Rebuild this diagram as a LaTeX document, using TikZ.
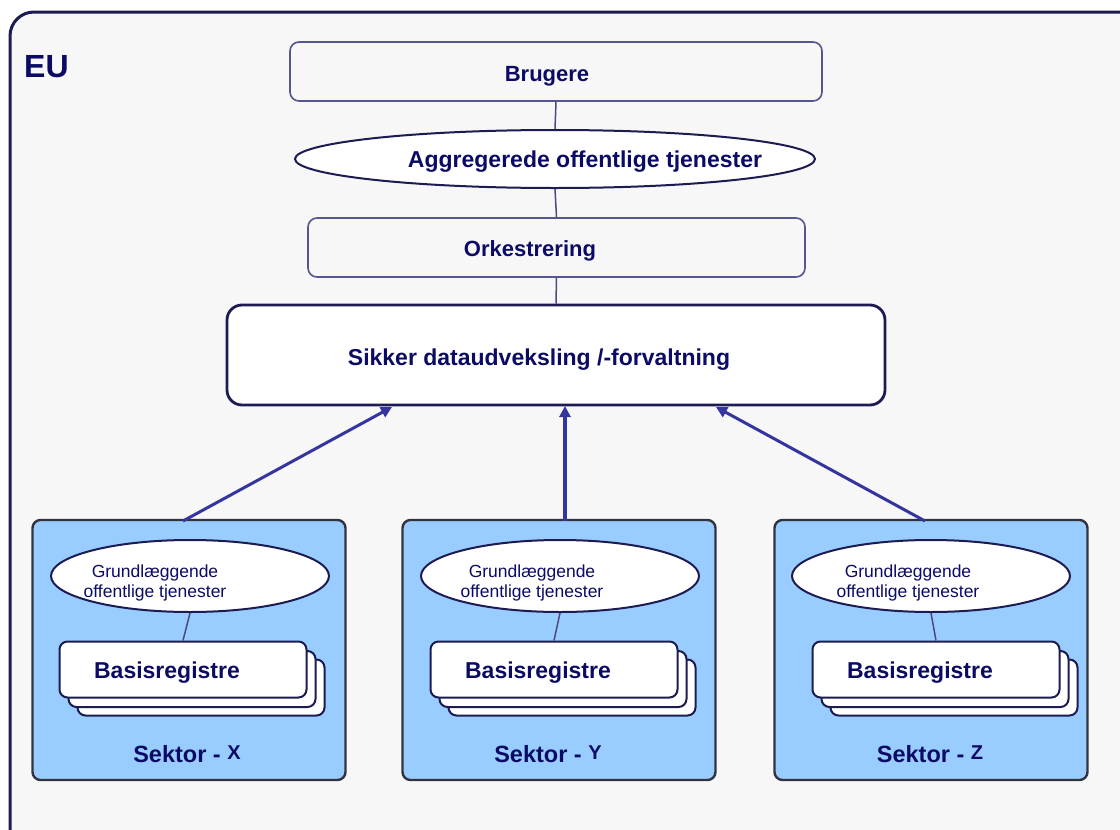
\documentclass[tikz,border=0pt]{standalone}
\usepackage{fontspec}
\setmainfont{Liberation Sans}
\usetikzlibrary{shapes.geometric,arrows.meta,calc}

\definecolor{navy}{HTML}{0B0B66}
\definecolor{framec}{HTML}{1C1C52}
\definecolor{thinbox}{HTML}{55558F}
\definecolor{pagebg}{HTML}{F7F7F7}
\definecolor{sectfill}{HTML}{99CCFF}
\definecolor{sectline}{HTML}{333340}
\definecolor{arrowc}{HTML}{3535A0}
\definecolor{linkc}{HTML}{4A4A80}

\tikzset{
  txt/.style={text=navy, inner sep=0pt},
  boldtxt/.style={txt, font=\fontsize{22}{25}\selectfont\bfseries},
  bigtxt/.style={txt, font=\fontsize{23}{26}\selectfont\bfseries},
  layerbox/.style={draw=thinbox, line width=1.6pt, rounded corners=9pt, fill=pagebg, inner sep=0pt},
  corebox/.style={draw=framec, line width=2.8pt, rounded corners=15pt, fill=white, inner sep=0pt},
  svcell/.style={ellipse, draw=framec, line width=2pt, fill=white, inner sep=0pt},
  sectbox/.style={draw=sectline, line width=2.4pt, rounded corners=8pt, fill=sectfill, inner sep=0pt,
                  minimum width=313pt, minimum height=260pt},
  regbox/.style={draw=framec, line width=2pt, rounded corners=8pt, fill=white, inner sep=0pt,
                 minimum width=247pt, minimum height=56pt},
  link/.style={draw=linkc, line width=1.5pt},
  flow/.style={draw=arrowc, line width=3pt, -{Triangle[length=11pt,width=11pt]}},
}

\begin{document}
\begin{tikzpicture}[x=1pt,y=-1pt]
\useasboundingbox (0,0) rectangle (1120,830);
\fill[white] (0,0) rectangle (1120,830);

% outer EU frame
\draw[framec, line width=3pt, fill=pagebg, rounded corners=24pt] (10,12) rectangle (1150,860);
\node[txt, font=\fontsize{32}{36}\selectfont\bfseries, anchor=west] (eu) at (24,67) {EU};

% upper layers
\node[layerbox, minimum width=532pt, minimum height=59pt] (brug) at (556,71.5) {};
\node[boldtxt] (brugT) at (547,76) {Brugere};

\node[svcell, minimum width=520pt, minimum height=58pt] (aggr) at (555,159) {};
\node[bigtxt] (aggrT) at (585,162) {Aggregerede offentlige tjenester};

\node[layerbox, minimum width=497pt, minimum height=59pt] (orke) at (556.5,247.5) {};
\node[boldtxt] (orkeT) at (530,251) {Orkestrering};

\node[corebox, minimum width=658pt, minimum height=100pt] (sik) at (556,355) {};
\node[bigtxt] (sikT) at (539,360) {Sikker dataudveksling /-forvaltning};

\draw[link] (brug.south) -- (aggr.north);
\draw[link] (aggr.south) -- (orke.north);
\draw[link] (orke.south) -- (sik.north);

% sectors
\foreach \id/\cx/\gx/\tx/\bx/\lab/\lx in {X/189/190/155/183/X/187, Y/559/560/532/554/Y/548, Z/931/931/908/936/Z/930}{
  \node[sectbox] (sec\id) at (\cx,650) {};
  \node[svcell, minimum width=278pt, minimum height=72pt] (grund\id) at (\gx,576) {};
  \node[txt, align=center, font=\fontsize{17.5}{20}\selectfont] (grund\id T) at (\tx,583)
       {Grundlæggende\\offentlige tjenester};
  \node[regbox] (reg\id c) at (\bx+18,687.5) {};
  \node[regbox] (reg\id b) at (\bx+9,679) {};
  \node[regbox] (reg\id) at (\bx,669.5) {};
  \node[txt, font=\fontsize{23}{26}\selectfont\bfseries] (reg\id T) at ($(\bx,673)+(-16,0)$) {Basisregistre};
  \draw[link] (grund\id.south) -- (reg\id.north);
  \node[txt, font=\fontsize{23.5}{26}\selectfont\bfseries] (sek\id) at (\lx,754)
       {Sektor - \raisebox{3pt}{\fontsize{20}{23}\selectfont\lab}};
}

% data flows into the exchange layer
\coordinate (inX) at (392,407);
\coordinate (inY) at (565,406);
\coordinate (inZ) at (716,407);
\coordinate (outX) at (183,521);
\coordinate (outY) at (565,521);
\coordinate (outZ) at (925,521);
\draw[flow] (outX) -- (inX);
\draw[flow, line width=4.5pt] (outY) -- (inY);
\draw[flow] (outZ) -- (inZ);
\end{tikzpicture}
\end{document}
